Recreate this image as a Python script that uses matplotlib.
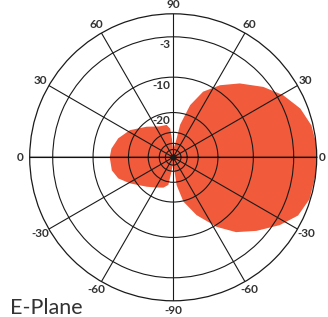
import numpy as np
import matplotlib
matplotlib.use('Agg')
from matplotlib import pyplot as plt

plt.rcParams['font.family'] = ['Lato', 'DejaVu Sans']

# E-plane pattern, dB (angle in degrees)
angles = [-90, -86, -83, -77, -68, -58, -50, -41.5, -32.5, -25, -17, -7, 0, 6,
          13, 21, 29.5, 38, 48, 57, 65.5, 72, 78, 80, 85, 90, 92, 94, 96, 101.5,
          115, 131, 148, 161, 172, 180, 192, 201, 211, 228, 240, 252, 260, 262,
          265, 270]
gain_db = [-55, -44.5, -28, -19.7, -14.3, -9.6, -6.6, -4.4, -2.2, -0.7, -0.1, 0, 0, 0,
           -0.2, -0.9, -2.2, -3.9, -6.3, -8.8, -11.8, -16.5, -25, -36, -45, -55, -48, -35, -27.5, -25.2,
           -24.7, -21.7, -17.7, -15.5, -14.3, -14, -14.2, -15.3, -17.9, -22.1, -24.3, -25.8, -28, -36,
           -46, -55]

ring_db = [-3, -10, -20, -30, -40, -50]
ring_labels = ['-3', '-10', '-20']
spoke_angles = [0, 30, 60, 90, 120, 150, 180, 210, 240, 270, 300, 330]
spoke_labels = ['0', '30', '60', '90', '60', '30', '0', '-30', '-60', '-90', '-60', '-30']


def arrl(db):
    # ARRL log scale: 0.89 per 2 dB
    return 0.89 ** (-np.asarray(db, dtype=float) / 2)


W, H = 328, 317
fig = plt.figure(figsize=(W / 100, H / 100), dpi=100)
cx, cy, R = 173.2, 317 - 157.3, 143.5
ax = fig.add_axes([(cx - R) / W, (cy - R) / H, 2 * R / W, 2 * R / H], projection='polar')

th = np.radians(angles)
ax.fill(th, arrl(gain_db), color='#f15a3a', lw=0, zorder=1)

ax.set_ylim(0, 1)
ax.set_yticks(arrl(ring_db))
ax.set_yticklabels([])
ax.set_xticks(np.radians(spoke_angles))
ax.set_xticklabels([])
ax.grid(True, color='#1a1a1a', lw=0.8)
ax.spines['polar'].set_linewidth(0.9)
ax.spines['polar'].set_color('#1a1a1a')

# thicker horizontal axis and centre dot
ax.plot(np.radians([0, 180]), [1, 1], color='#000000', alpha=0.35, lw=1.5, zorder=3)
ax.plot([0], [0], 'o', color='#1a1a1a', ms=3.5, zorder=4)

for a, t in zip(spoke_angles, spoke_labels):
    r = 1.04 if a == 0 else 1.067
    ax.text(np.radians(a), r, t, ha='center', va='center', fontsize=8.5,
            fontweight='bold', color='#333333', clip_on=False)

shift = matplotlib.transforms.ScaledTranslation(-3 / 100, 0, fig.dpi_scale_trans)
for d, t in zip(ring_db[:3], ring_labels):
    ax.text(np.radians(90), arrl(d) - 0.055, t, ha='right', va='center', fontsize=8.5,
            fontweight='bold', color='#333333', transform=ax.transData + shift)

fig.text(10 / W, 3.5 / H, 'E-Plane', ha='left', va='baseline', fontsize=15.5, color='#333333')

fig.savefig('out.png', dpi=100)
